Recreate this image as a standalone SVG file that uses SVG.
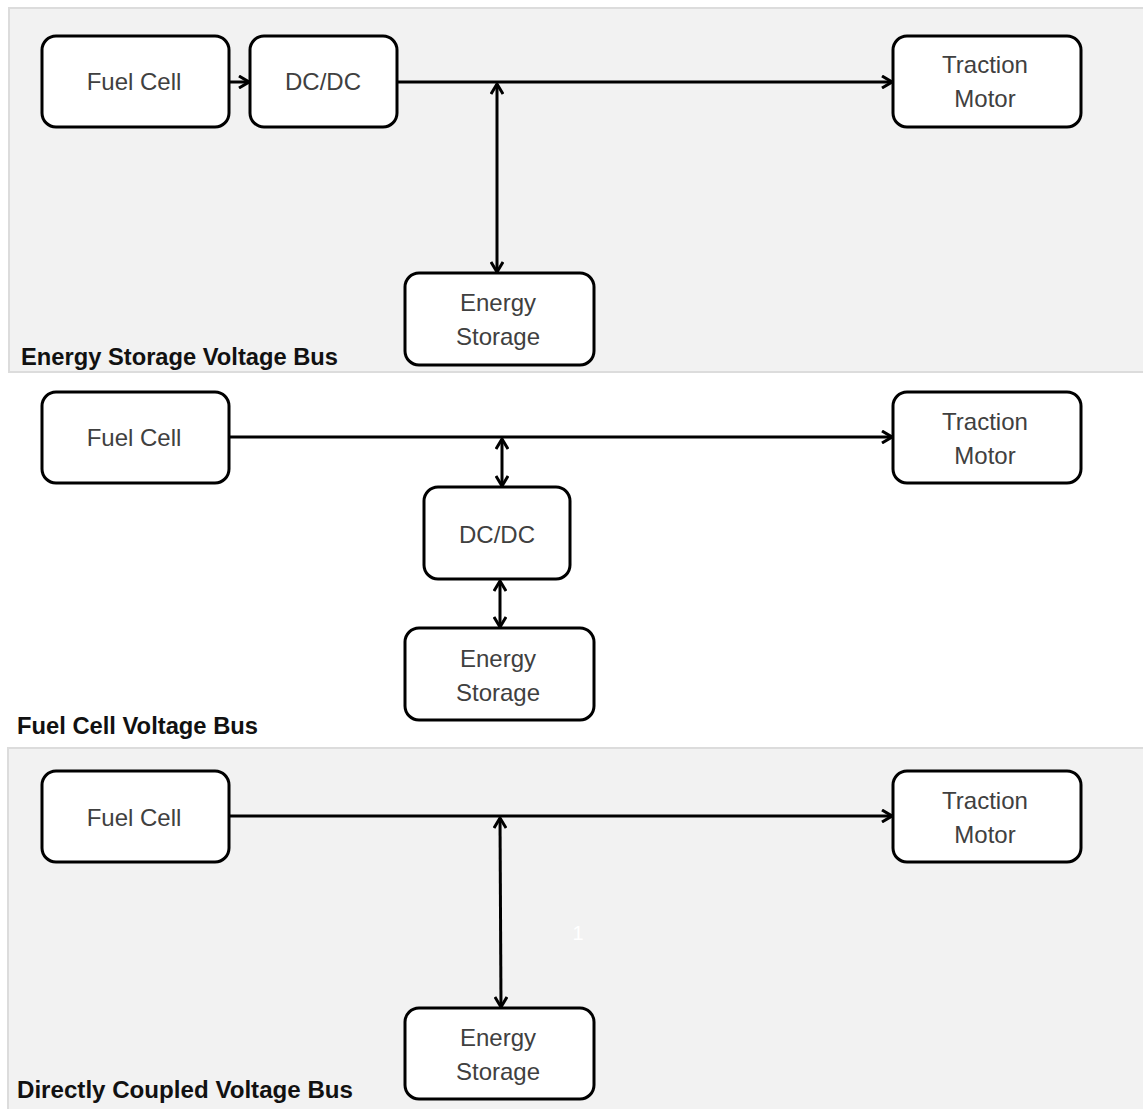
<svg xmlns="http://www.w3.org/2000/svg" width="1143" height="1109" viewBox="0 0 1143 1109">
<style>
.panel{fill:#f2f2f2;stroke:#dcdcdc;stroke-width:2}
.box{fill:#ffffff;stroke:#000;stroke-width:3}
.t{font-family:"Liberation Sans",Arial,sans-serif;font-size:24px;fill:#404040;text-anchor:middle}
.lbl{font-family:"Liberation Sans",Arial,sans-serif;font-size:23px;font-weight:bold;fill:#111}
.c{stroke:#000;stroke-width:3;fill:none}
</style>
<defs>
<marker id="ah" viewBox="0 0 14 14" refX="13" refY="7" markerWidth="14" markerHeight="14" markerUnits="userSpaceOnUse" orient="auto-start-reverse">
<path d="M3,1 L13,7 L3,13" fill="none" stroke="#000" stroke-width="3"/>
</marker>
</defs>
<rect width="1143" height="1109" fill="#ffffff"/>
<rect class="panel" x="9" y="8" width="1140" height="364"/>
<rect class="panel" x="8" y="748" width="1140" height="370"/>
<text class="lbl" x="21" y="365" textLength="317" lengthAdjust="spacingAndGlyphs">Energy Storage Voltage Bus</text>
<text class="lbl" x="17" y="734" textLength="241" lengthAdjust="spacingAndGlyphs">Fuel Cell Voltage Bus</text>
<text class="lbl" x="17" y="1098" textLength="336" lengthAdjust="spacingAndGlyphs">Directly Coupled Voltage Bus</text>
<text x="578" y="940" font-family="Liberation Sans, Arial, sans-serif" font-size="20" fill="#ffffff" text-anchor="middle">1</text>
<g id="connectors">
<line class="c" x1="229" y1="82" x2="249" y2="82" marker-end="url(#ah)"/>
<line class="c" x1="397" y1="82" x2="892" y2="82" marker-end="url(#ah)"/>
<line class="c" x1="497" y1="84" x2="497" y2="272" marker-start="url(#ah)" marker-end="url(#ah)"/>
<line class="c" x1="229" y1="437" x2="892" y2="437" marker-end="url(#ah)"/>
<line class="c" x1="502" y1="439" x2="502" y2="486" marker-start="url(#ah)" marker-end="url(#ah)"/>
<line class="c" x1="500" y1="581" x2="500" y2="627" marker-start="url(#ah)" marker-end="url(#ah)"/>
<line class="c" x1="229" y1="816" x2="892" y2="816" marker-end="url(#ah)"/>
<line class="c" x1="500" y1="818" x2="501" y2="1007" marker-start="url(#ah)" marker-end="url(#ah)"/>
</g>
<g id="fc1"><rect class="box" x="42" y="36" width="187" height="91" rx="14"/><text class="t" x="134" y="90">Fuel Cell</text></g>
<g id="dcdc1"><rect class="box" x="250" y="36" width="147" height="91" rx="14"/><text class="t" x="323" y="90">DC/DC</text></g>
<g id="tm1"><rect class="box" x="893" y="36" width="188" height="91" rx="14"/><text class="t" x="985" y="73">Traction</text><text class="t" x="985" y="107">Motor</text></g>
<g id="es1"><rect class="box" x="405" y="273" width="189" height="92" rx="14"/><text class="t" x="498" y="311">Energy</text><text class="t" x="498" y="345">Storage</text></g>
<g id="fc2"><rect class="box" x="42" y="392" width="187" height="91" rx="14"/><text class="t" x="134" y="446">Fuel Cell</text></g>
<g id="tm2"><rect class="box" x="893" y="392" width="188" height="91" rx="14"/><text class="t" x="985" y="430">Traction</text><text class="t" x="985" y="464">Motor</text></g>
<g id="dcdc2"><rect class="box" x="424" y="487" width="146" height="92" rx="14"/><text class="t" x="497" y="543">DC/DC</text></g>
<g id="es2"><rect class="box" x="405" y="628" width="189" height="92" rx="14"/><text class="t" x="498" y="667">Energy</text><text class="t" x="498" y="701">Storage</text></g>
<g id="fc3"><rect class="box" x="42" y="771" width="187" height="91" rx="14"/><text class="t" x="134" y="826">Fuel Cell</text></g>
<g id="tm3"><rect class="box" x="893" y="771" width="188" height="91" rx="14"/><text class="t" x="985" y="809">Traction</text><text class="t" x="985" y="843">Motor</text></g>
<g id="es3"><rect class="box" x="405" y="1008" width="189" height="91" rx="14"/><text class="t" x="498" y="1046">Energy</text><text class="t" x="498" y="1080">Storage</text></g>
</svg>
